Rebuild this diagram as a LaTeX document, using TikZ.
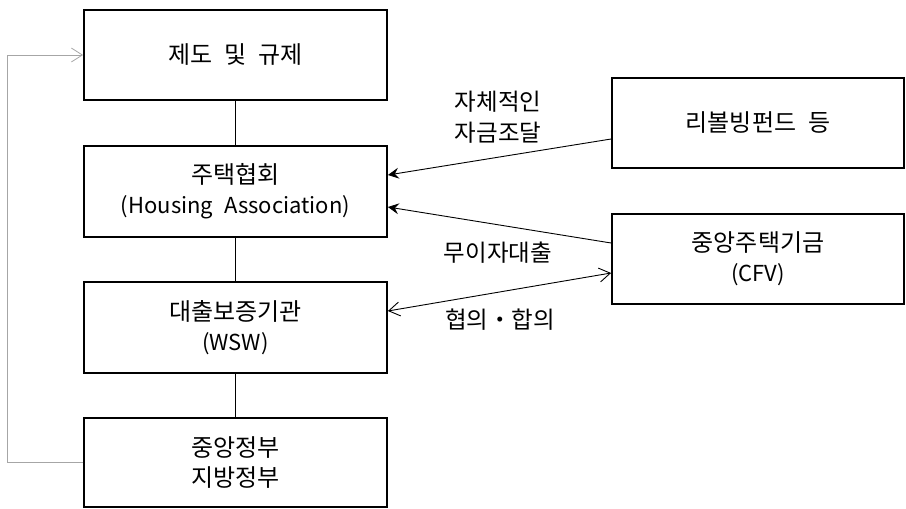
\documentclass[tikz,border=0pt]{standalone}
\usepackage{fontspec}
\setmainfont{Noto Sans CJK KR}
\usetikzlibrary{arrows.meta}
\newcommand{\wsp}{\hspace{0.5em}}
\tikzset{
  box/.style={draw=black, line width=1.8pt, minimum width=303pt, minimum height=90pt, inner sep=0pt, align=center, font=\fontsize{24}{30}\selectfont},
  rbox/.style={box, minimum width=292pt},
  lbl/.style={align=center, font=\fontsize{23.5}{31}\selectfont},
  link/.style={draw=black, line width=0.9pt},
  solid arrow/.style={draw=black, line width=0.9pt, -{Stealth[length=11pt,width=11pt,inset=4pt]}},
  open both/.style={draw=black, line width=0.9pt, {Straight Barb[length=11pt,width=14pt]}-{Straight Barb[length=11pt,width=14pt]}},
  feedback/.style={draw=gray!70, line width=0.8pt, -{Straight Barb[length=11pt,width=14pt]}}
}
\begin{document}
\begin{tikzpicture}[x=1pt,y=-1pt]
\useasboundingbox (0,0) rectangle (906,509);
\node[box] (b1) at (235.5,55) {제도\wsp 및\wsp 규제};
\node[box, minimum height=91pt] (b2) at (235.5,191.5) {주택협회\\{\fontsize{22}{30}\selectfont(Housing\wsp Association)}};
\node[box, minimum height=91pt] (b3) at (235.5,327.5) {대출보증기관\\{\fontsize{22}{30}\selectfont(WSW)}};
\node[box, minimum height=89pt] (b4) at (235.5,462.5) {중앙정부\\지방정부};
\node[rbox] (r1) at (758,123) {리볼빙펀드\wsp 등};
\node[rbox] (r2) at (758,259) {중앙주택기금\\{\fontsize{22}{30}\selectfont(CFV)}};

\draw[link] (b1) -- (b2);
\draw[link] (b2) -- (b3);
\draw[link] (b3) -- (b4);

\draw[solid arrow] ([yshift=-16pt]r1.west) -- ([yshift=16.5pt]b2.east);
\draw[solid arrow] ([yshift=16pt]r2.west) -- ([yshift=-15.5pt]b2.east);
\draw[open both] ([yshift=16.5pt]b3.east) -- ([yshift=-14pt]r2.west);

\draw[feedback] (b4.west) -- ++(-76,0) |- (b1.west);

\node[lbl] (l1) at (498,117) {자체적인\\자금조달};
\node[lbl] (l2) at (498,253) {무이자대출};
\node[lbl] (l3) at (500,320) {협의・합의};
\end{tikzpicture}
\end{document}
